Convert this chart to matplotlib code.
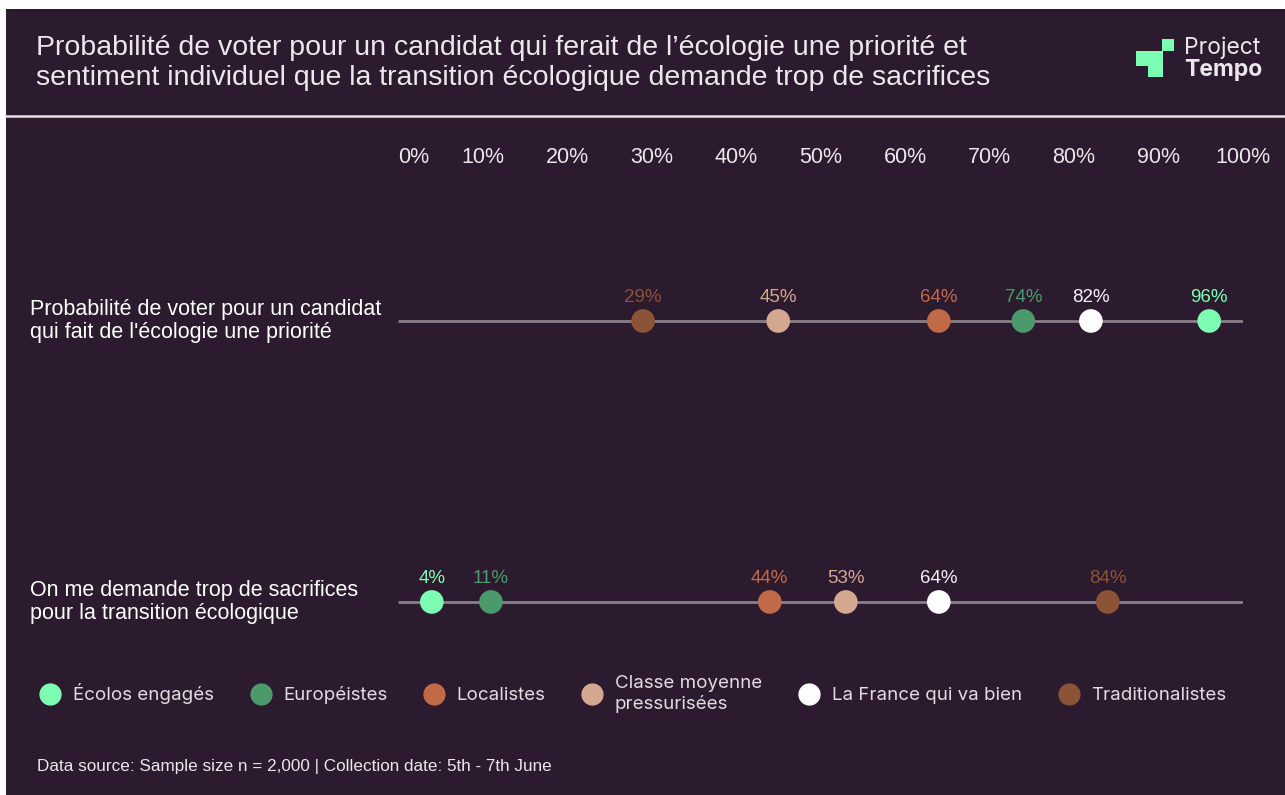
import matplotlib
matplotlib.use("Agg")
import matplotlib.pyplot as plt
from matplotlib.lines import Line2D
from matplotlib.patches import Rectangle
from matplotlib.transforms import blended_transform_factory

# ---------------- data ----------------
segments = ["Écolos engagés", "Européistes", "Localistes",
            "Classe moyenne\npressurisées", "La France qui va bien", "Traditionalistes"]
seg_colors = ["#7dffb3", "#4b9a6c", "#c16a48", "#d4a791", "#ffffff", "#8b5337"]
label_colors = ["#7dffb3", "#4b9a6c", "#c16a48", "#d4a791", "#f2f2f2", "#8b5337"]
questions = ["Probabilité de voter pour un candidat\nqui fait de l'écologie une priorité",
             "On me demande trop de sacrifices\npour la transition écologique"]
vote_priority = [96, 74, 64, 45, 82, 29]
too_many_sacrifices = [4, 11, 44, 53, 64, 84]
tick_values = [0, 10, 20, 30, 40, 50, 60, 70, 80, 90, 100]
tick_labels = ["0%", "10%", "20%", "30%", "40%", "50%", "60%", "70%", "80%", "90%", "100%"]
title = ("Probabilité de voter pour un candidat qui ferait de l’écologie une priorité et\n"
         "sentiment individuel que la transition écologique demande trop de sacrifices")
footer = "Data source: Sample size n = 2,000 | Collection date: 5th - 7th June"

# ---------------- style ----------------
W, H = 1285, 795
BG = "#2c1a2e"
TXT = "#ece7ec"
LINE = "#8a7f8a"
GREEN = "#7dffb3"
plt.rcParams["font.family"] = ["Liberation Sans", "DejaVu Sans"]

fig = plt.figure(figsize=(W / 100, H / 100), dpi=100, facecolor="white")

def fx(px):
    return px / W

def fy(py):
    return 1 - py / H

# dark background with thin white margin top/left
fig.add_artist(Rectangle((fx(6), 0), 1 - fx(6), fy(9), transform=fig.transFigure,
                         facecolor=BG, edgecolor="none", zorder=0))
# divider under title
fig.add_artist(Line2D([fx(6), 1], [fy(116), fy(116)], transform=fig.transFigure,
                      color="#e6e0e6", lw=1.8, zorder=1))

# title
fig.text(fx(36), fy(63), title, ha="left", va="center", fontsize=20.5,
         color=TXT, linespacing=1.2)

# logo
for (x0, y0, w, h) in [(1162, 39, 12, 12), (1136, 51, 27, 15), (1148, 51, 15, 26)]:
    fig.add_artist(Rectangle((fx(x0), fy(y0 + h)), w / W, h / H, transform=fig.transFigure,
                             facecolor=GREEN, edgecolor="none", zorder=2))
fig.text(fx(1184), fy(48), "Project", ha="left", va="center", fontsize=16.5,
         color=TXT, family=["Inter", "DejaVu Sans"])
fig.text(fx(1184), fy(70), "Tempo", ha="left", va="center", fontsize=16.5,
         color=TXT, fontweight="bold", family=["Inter", "DejaVu Sans"])

# main axes
ax_left, ax_right, ax_top, ax_bottom = 398, 1243, 185, 650
ax = fig.add_axes([fx(ax_left), fy(ax_bottom), (ax_right - ax_left) / W,
                   (ax_bottom - ax_top) / H])
ax.set_facecolor("none")
for s in ax.spines.values():
    s.set_visible(False)
ax.set_xlim(0, 100)
ax.set_ylim(1.171, -0.484)
ax.set_yticks([])
ax.xaxis.tick_top()
ax.set_xticks(tick_values, tick_labels)
ax.tick_params(axis="x", length=0, pad=12, labelsize=15.5, labelcolor=TXT)
ax.get_xticklabels()[0].set_ha("left")

series = [vote_priority, too_many_sacrifices]
for i, vals in enumerate(series):
    ax.plot([tick_values[0], tick_values[-1]], [i, i], color=LINE, lw=2, zorder=1,
            solid_capstyle="butt")
    ax.scatter(vals, [i] * len(vals), s=290, c=seg_colors, edgecolors="none", zorder=3)
    for v, c in zip(vals, label_colors):
        ax.annotate(f"{v}%", (v, i), xytext=(0, 11), textcoords="offset points",
                    ha="center", va="bottom", fontsize=13.5, color=c)

# row labels
tr = blended_transform_factory(fig.transFigure, ax.transData)
for i, q in enumerate(questions):
    ax.text(fx(30), i, q, transform=tr, ha="left", va="center", fontsize=15.5,
            color="#ffffff", linespacing=1.15)

# legend
handles = [Line2D([], [], ls="", marker="o", markersize=15, markerfacecolor=c,
                  markeredgecolor=c) for c in seg_colors]
leg = fig.legend(handles, segments, loc="center left", bbox_to_anchor=(fx(22), fy(694)),
                 ncol=6, frameon=False, labelcolor="#e2dce2",
                 handletextpad=0.6, columnspacing=1.9, handlelength=1.2,
                 prop={"family": ["Inter", "DejaVu Sans"], "size": 13.5})

# footer
fig.text(fx(37), fy(766), footer, ha="left", va="center", fontsize=12.3, color=TXT)

fig.savefig("out.png", dpi=100, facecolor=fig.get_facecolor())
